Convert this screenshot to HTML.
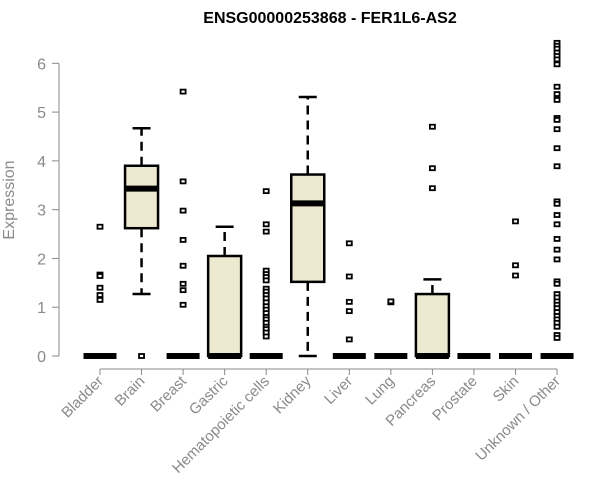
<!DOCTYPE html>
<html><head><meta charset="utf-8"><style>
body{margin:0;background:#fff;}
svg{display:block;font-family:"Liberation Sans",Arial,sans-serif;}
</style></head><body>
<svg id="c" width="600" height="500">
<text x="330" y="23" text-anchor="middle" font-size="16" font-weight="bold">ENSG00000253868 - FER1L6-AS2</text>
<text transform="translate(14,200) rotate(-90)" text-anchor="middle" font-size="16" fill="#8a8a8a">Expression</text>
<g id="g"></g>
</svg>
<script>
const categories=["Bladder","Brain","Breast","Gastric","Hematopoietic cells","Kidney","Liver","Lung","Pancreas","Prostate","Skin","Unknown / Other"];
const lowW=[0,1.27,0,0,0,0,0,0,0,0,0,0];
const q1=[0,2.62,0,0,0,1.52,0,0,0,0,0,0];
const med=[0,3.43,0,0,0,3.13,0,0,0,0,0,0];
const q3=[0,3.9,0,2.05,0,3.72,0,0,1.27,0,0,0];
const highW=[0,4.67,0,2.65,0,5.31,0,0,1.57,0,0,0];
const outliers=[
[2.65,1.67,1.64,1.4,1.25,1.15],
[0],
[5.42,3.58,2.98,2.38,1.85,1.48,1.35,1.05],
[],
[3.38,2.7,2.55,1.75,1.68,1.62,1.55,1.38,1.32,1.25,1.18,1.1,1.02,0.95,0.88,0.8,0.75,0.68,0.6,0.55,0.48,0.4],
[],
[2.31,1.63,1.11,0.92,0.34],
[1.1,1.12],
[4.7,3.85,3.44],
[],
[2.76,1.86,1.65],
[6.42,6.36,6.3,6.22,6.15,6.08,5.98,5.52,5.37,5.25,4.88,4.84,4.65,4.26,3.89,3.17,3.12,2.89,2.7,2.4,2.18,1.98,1.53,1.48,1.27,1.2,1.12,1.05,0.98,0.9,0.82,0.75,0.68,0.6,0.43,0.37]
];
const yTicks=[0,1,2,3,4,5,6];
const NS="http://www.w3.org/2000/svg";
const g=document.getElementById('g');
const x=i=>100+i*41.55;
const y=v=>356-v*48.78;
function mk(t,a,p){const e=document.createElementNS(NS,t);for(const k in a)e.setAttribute(k,a[k]);(p||g).appendChild(e);return e;}
let ya=mk('line',{x1:59,x2:59,y1:y(0),y2:y(6),stroke:'#888'});


yTicks.forEach(t=>{
 mk('line',{x1:52,x2:59,y1:y(t),y2:y(t),stroke:'#888'});
 let tx=mk('text',{x:46,y:y(t)+6,'text-anchor':'end','font-size':16,fill:'#8a8a8a'});
 tx.textContent=t;
 
 
});
let xa=mk('line',{x1:x(0),x2:x(11),y1:369,y2:369,stroke:'#888'});


categories.forEach((c,i)=>{
 const cx=x(i),hw=16.5;
 mk('line',{x1:cx,x2:cx,y1:369,y2:375,stroke:'#888'});
 let tx=mk('text',{x:cx+4,y:382,'text-anchor':'end','font-size':15,fill:'#8a8a8a',transform:`rotate(-45 ${cx+4} 382)`});
 tx.textContent=c;
 
 
 const bg=mk('g',{});
 
 
 if(highW[i]>q3[i]){
  mk('line',{x1:cx,x2:cx,y1:y(q3[i]),y2:y(highW[i]),stroke:'#000','stroke-width':2.5,'stroke-dasharray':'9,6'},bg);
  mk('line',{x1:cx-9,x2:cx+9,y1:y(highW[i]),y2:y(highW[i]),stroke:'#000','stroke-width':2.5},bg);
 }
 if(lowW[i]<q1[i]){
  mk('line',{x1:cx,x2:cx,y1:y(q1[i]),y2:y(lowW[i]),stroke:'#000','stroke-width':2.5,'stroke-dasharray':'9,6'},bg);
  mk('line',{x1:cx-9,x2:cx+9,y1:y(lowW[i]),y2:y(lowW[i]),stroke:'#000','stroke-width':2.5},bg);
 }
 if(q3[i]>q1[i]) mk('rect',{x:cx-hw,y:y(q3[i]),width:2*hw,height:y(q1[i])-y(q3[i]),fill:'#ede8d0',stroke:'#000','stroke-width':2.5},bg);
 mk('line',{x1:cx-hw,x2:cx+hw,y1:y(med[i]),y2:y(med[i]),stroke:'#000','stroke-width':6},bg);
 outliers[i].forEach(v=>{
  let p=mk('rect',{x:cx-2.5,y:y(v)-2,width:5,height:4,fill:'#fff',stroke:'#000','stroke-width':1.8},bg);
  
  
 });
});
</script>
</body></html>
